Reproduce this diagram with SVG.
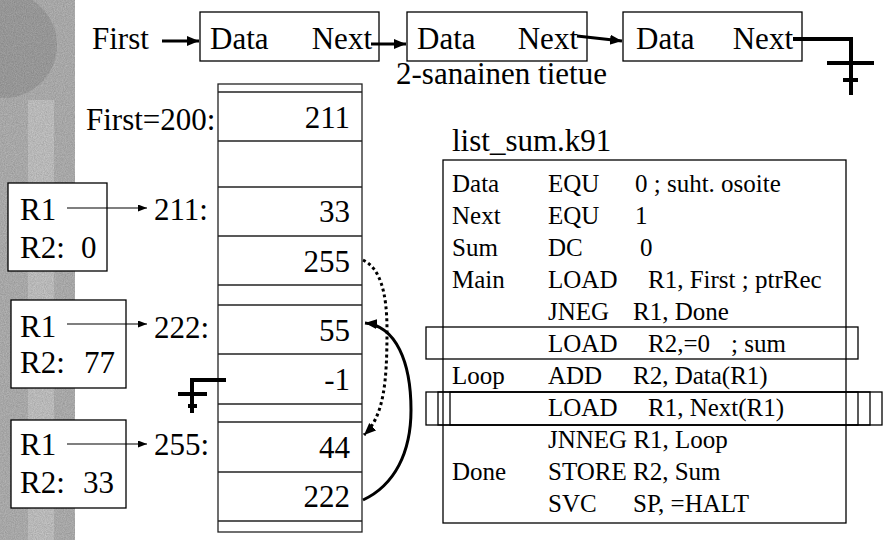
<svg xmlns="http://www.w3.org/2000/svg" width="883" height="540" viewBox="0 0 883 540">
  <defs>
    <style>
      text { font-family: "Liberation Serif", "Times New Roman", serif; fill: #000; }
      .t { font-size: 31px; }
      .c { font-size: 25px; }
      .box { fill: #fff; stroke: #000; stroke-width: 1.3; }
      .cell { fill: none; stroke: #222; stroke-width: 1.3; }
      .hl { fill: none; stroke: #000; stroke-width: 1.3; }
      .thick { fill: none; stroke: #000; stroke-width: 3; }
      .thin { fill: none; stroke: #000; stroke-width: 1.2; }
      .nil { fill: none; stroke: #000; stroke-width: 4; }
      .dots { fill: none; stroke: #000; stroke-width: 3; stroke-dasharray: 3 3; }
      .curve { fill: none; stroke: #000; stroke-width: 3; }
    </style>
    <marker id="headBig" markerUnits="userSpaceOnUse" markerWidth="13" markerHeight="11" refX="12" refY="5" orient="auto">
      <path d="M0,0 L12,5 L0,10 Z" fill="#000"/>
    </marker>
    <marker id="headSmall" markerUnits="userSpaceOnUse" markerWidth="10" markerHeight="8" refX="9" refY="3.5" orient="auto">
      <path d="M0,0 L9,3.5 L0,7 Z" fill="#000"/>
    </marker>
    <filter id="grain" x="0" y="0" width="100%" height="100%">
      <feTurbulence type="fractalNoise" baseFrequency="0.9" numOctaves="2" seed="4" result="n"/>
      <feColorMatrix in="n" type="matrix" values="0 0 0 0 0  0 0 0 0 0  0 0 0 0 0  0 0 0 0.5 0" result="a"/>
      <feComposite in="a" in2="SourceGraphic" operator="in"/>
    </filter>
  </defs>

  <!-- decorative side band -->
  <g id="sideband">
    <rect x="0" y="0" width="75" height="540" fill="#bcbcbc"/>
    <rect x="28" y="100" width="26" height="440" fill="#cfcfcf"/>
    <circle cx="4" cy="45" r="53" fill="#a9a9a9"/>
    <rect x="0" y="0" width="75" height="540" fill="#fff" filter="url(#grain)" opacity="0.45"/>
  </g>

  <!-- linked list: records -->
  <g id="first-label">
    <text class="t" x="92" y="49">First</text>
  </g>
  <g id="rec1">
    <rect class="box" x="200" y="12" width="179" height="49"/>
    <text class="t" x="210" y="49">Data</text>
    <text class="t" x="372" y="49" text-anchor="end">Next</text>
  </g>
  <g id="rec2">
    <rect class="box" x="407" y="12" width="180" height="49"/>
    <text class="t" x="417" y="49">Data</text>
    <text class="t" x="578" y="49" text-anchor="end">Next</text>
  </g>
  <g id="rec3">
    <rect class="box" x="623" y="12" width="179" height="49"/>
    <text class="t" x="636" y="49">Data</text>
    <text class="t" x="793" y="49" text-anchor="end">Next</text>
  </g>
  <g id="caption">
    <text class="t" x="396" y="84">2-sanainen tietue</text>
  </g>

  <!-- memory column -->
  <g id="memory">
    <rect class="cell" x="218" y="84" width="144" height="448"/>
    <line class="cell" x1="218" y1="92" x2="362" y2="92"/>
    <line class="cell" x1="218" y1="141" x2="362" y2="141"/>
    <line class="cell" x1="218" y1="187" x2="362" y2="187"/>
    <line class="cell" x1="218" y1="236" x2="362" y2="236"/>
    <line class="cell" x1="218" y1="285" x2="362" y2="285"/>
    <line class="cell" x1="218" y1="305" x2="362" y2="305"/>
    <line class="cell" x1="218" y1="354" x2="362" y2="354"/>
    <line class="cell" x1="218" y1="404" x2="362" y2="404"/>
    <line class="cell" x1="218" y1="422" x2="362" y2="422"/>
    <line class="cell" x1="218" y1="472" x2="362" y2="472"/>
    <line class="cell" x1="218" y1="521" x2="362" y2="521"/>
    <text class="t" x="350" y="128" text-anchor="end">211</text>
    <text class="t" x="350" y="222" text-anchor="end">33</text>
    <text class="t" x="350" y="272" text-anchor="end">255</text>
    <text class="t" x="350" y="341" text-anchor="end">55</text>
    <text class="t" x="350" y="390" text-anchor="end">-1</text>
    <text class="t" x="350" y="458" text-anchor="end">44</text>
    <text class="t" x="350" y="507" text-anchor="end">222</text>
  </g>
  <g id="addr-labels">
    <text class="t" x="86" y="130">First=200:</text>
    <text class="t" x="154" y="220">211:</text>
    <text class="t" x="154" y="338">222:</text>
    <text class="t" x="154" y="455">255:</text>
  </g>

  <!-- register snapshots -->
  <g id="regs-1">
    <rect class="box" x="8" y="183" width="99" height="88"/>
    <text class="t" x="20" y="220">R1</text>
    <text class="t" x="20" y="258">R2:</text>
    <text class="t" x="81" y="258">0</text>
  </g>
  <g id="regs-2">
    <rect class="box" x="11" y="300" width="115" height="88"/>
    <text class="t" x="20" y="337">R1</text>
    <text class="t" x="20" y="373">R2:</text>
    <text class="t" x="84" y="373">77</text>
  </g>
  <g id="regs-3">
    <rect class="box" x="11" y="420" width="115" height="88"/>
    <text class="t" x="20" y="455">R1</text>
    <text class="t" x="20" y="493">R2:</text>
    <text class="t" x="83" y="493">33</text>
  </g>

  <!-- program listing -->
  <g id="program">
    <text class="t" x="452" y="151">list_sum.k91</text>
    <rect class="box" x="443" y="160" width="403" height="363"/>
    <rect class="hl" x="426" y="327" width="432" height="32"/>
    <rect class="hl" x="426" y="392" width="456" height="33"/>
    <rect class="hl" x="438" y="392" width="432" height="33"/>
    <rect class="hl" x="450" y="392" width="408" height="33"/>
    <text class="c" y="192"><tspan x="452">Data</tspan><tspan x="548">EQU</tspan><tspan x="635">0 ; suht. osoite</tspan></text>
    <text class="c" y="224"><tspan x="452">Next</tspan><tspan x="548">EQU</tspan><tspan x="635">1</tspan></text>
    <text class="c" y="256"><tspan x="452">Sum</tspan><tspan x="548">DC</tspan><tspan x="640">0</tspan></text>
    <text class="c" y="288"><tspan x="452">Main</tspan><tspan x="548">LOAD</tspan><tspan x="648">R1, First ; ptrRec</tspan></text>
    <text class="c" y="320"><tspan x="548">JNEG</tspan><tspan x="633">R1, Done</tspan></text>
    <text class="c" y="352"><tspan x="548">LOAD</tspan><tspan x="648">R2,=0</tspan><tspan x="731">; sum</tspan></text>
    <text class="c" y="384"><tspan x="452">Loop</tspan><tspan x="548">ADD</tspan><tspan x="633">R2, Data(R1)</tspan></text>
    <text class="c" y="416"><tspan x="548">LOAD</tspan><tspan x="648">R1, Next(R1)</tspan></text>
    <text class="c" y="448"><tspan x="548">JNNEG R1, Loop</tspan></text>
    <text class="c" y="480"><tspan x="452">Done</tspan><tspan x="548">STORE R2, Sum</tspan></text>
    <text class="c" y="512"><tspan x="548">SVC</tspan><tspan x="633">SP, =HALT</tspan></text>
  </g>

  <!-- pointers and list terminators -->
  <g id="connectors">
    <line class="thick" x1="162" y1="41" x2="199" y2="41" marker-end="url(#headBig)"/>
    <line class="thick" x1="371" y1="44" x2="406" y2="44" marker-end="url(#headBig)"/>
    <line class="thick" x1="577" y1="36" x2="622" y2="41" marker-end="url(#headBig)"/>
    <polyline class="nil" points="793,39 851,39 851,95"/>
    <line class="nil" x1="827" y1="63" x2="874" y2="63"/>
    <line class="nil" x1="843" y1="80" x2="858" y2="80"/>

    <line class="thin" x1="67" y1="208" x2="147" y2="208" marker-end="url(#headSmall)"/>
    <line class="thin" x1="67" y1="324" x2="147" y2="324" marker-end="url(#headSmall)"/>
    <line class="thin" x1="67" y1="444" x2="147" y2="444" marker-end="url(#headSmall)"/>

    <polyline class="nil" points="226,380 192,380 192,413"/>
    <line class="nil" x1="178" y1="394" x2="207" y2="394"/>
    <line class="nil" x1="188" y1="406" x2="197" y2="406"/>

    <path class="dots" d="M363,260 C380,268 387,292 387,330 C387,382 384,416 364,435" marker-end="url(#headBig)"/>
    <path class="curve" d="M363,500 C395,485 411,452 411,410 C411,362 396,326 365,323" marker-end="url(#headBig)"/>
  </g>
</svg>
